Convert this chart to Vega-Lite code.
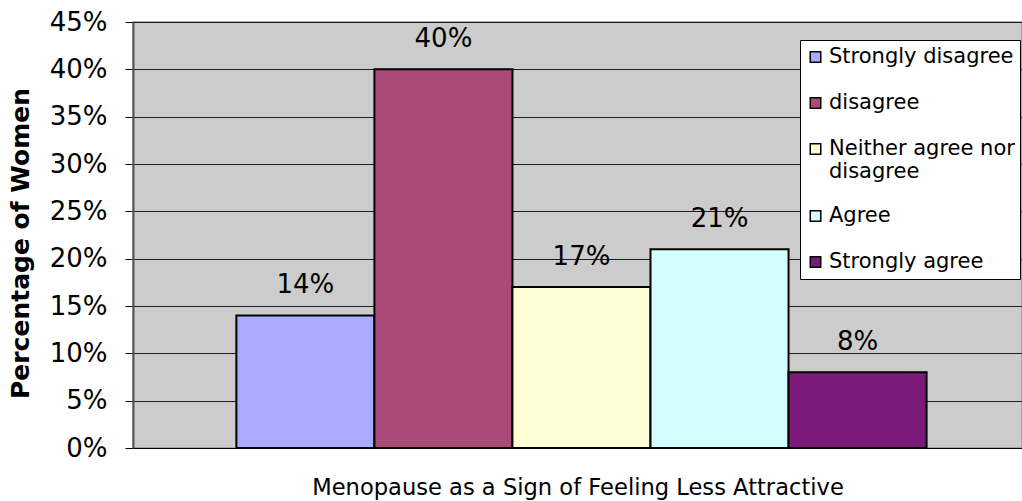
{
  "$schema": "https://vega.github.io/schema/vega-lite/v6.json",
  "width": 889,
  "height": 426,
  "autosize": "none",
  "padding": {"left": 133, "top": 22, "right": 0, "bottom": 53},
  "background": "white",
  "config": {
    "font": "DejaVu Sans",
    "view": {"fill": "#CCCCCC", "stroke": "#999999", "strokeWidth": 1.5}
  },
  "data": {
    "values": [
      {"response": "Strongly disagree", "pct": 0.14},
      {"response": "disagree", "pct": 0.40},
      {"response": "Neither agree nor disagree", "pct": 0.17},
      {"response": "Agree", "pct": 0.21},
      {"response": "Strongly agree", "pct": 0.08}
    ]
  },
  "encoding": {
    "x": {
      "field": "response",
      "type": "nominal",
      "sort": ["Strongly disagree", "disagree", "Neither agree nor disagree", "Agree", "Strongly agree"],
      "scale": {"paddingInner": 0, "paddingOuter": 0.72, "align": 0.52},
      "axis": {
        "labels": false,
        "ticks": false,
        "grid": false,
        "domain": true,
        "domainColor": "#000000",
        "domainWidth": 1,
        "title": "Menopause as a Sign of Feeling Less Attractive",
        "titleFontSize": 22.6,
        "titleFontWeight": "normal",
        "titleColor": "#000000",
        "titleY": 39,
        "titleBaseline": "middle"
      }
    },
    "y": {
      "field": "pct",
      "type": "quantitative",
      "scale": {"domain": [0, 0.45]},
      "axis": {
        "values": [0, 0.05, 0.1, 0.15, 0.2, 0.25, 0.3, 0.35, 0.4, 0.45],
        "format": ".0%",
        "labelFontSize": 26,
        "labelColor": "#000000",
        "labelPadding": 18,
        "labelBaseline": "middle",
        "tickSize": 8,
        "tickColor": "#000000",
        "grid": true,
        "gridColor": "#000000",
        "gridWidth": 1,
        "gridOpacity": 0.85,
        "domainColor": "#555555",
        "domainWidth": 2,
        "title": "Percentage of Women",
        "titleFontSize": 25,
        "titleFontWeight": "bold",
        "titleColor": "#000000",
        "titleAngle": -90,
        "titleX": -113,
        "titleY": 221,
        "titleAlign": "center",
        "titleBaseline": "middle"
      }
    }
  },
  "layer": [
    {
      "mark": {"type": "bar", "stroke": "#000000", "strokeWidth": 2},
      "encoding": {
        "color": {
          "field": "response",
          "type": "nominal",
          "scale": {
            "domain": ["Strongly disagree", "disagree", "Neither agree nor disagree", "Agree", "Strongly agree"],
            "range": ["#AAAAFF", "#AA4A77", "#FFFDD6", "#D4FDFF", "#7B1A78"]
          },
          "legend": {
            "orient": "none",
            "legendX": 667,
            "legendY": 18,
            "title": null,
            "fillColor": "#FFFFFF",
            "strokeColor": "#000000",
            "padding": 5,
            "labelFontSize": 21,
            "labelColor": "#000000",
            "labelOffset": 3,
            "labelLineHeight": 21,
            "symbolType": "square",
            "symbolSize": 110,
            "symbolStrokeColor": "#000000",
            "symbolStrokeWidth": 1.5,
            "symbolOpacity": 1,
            "rowPadding": 22,
            "clipHeight": 24,
            "labelLimit": 300,
            "labelExpr": "datum.label == 'Neither agree nor disagree' ? ['Neither agree nor', 'disagree'] : datum.label"
          }
        }
      }
    },
    {
      "mark": {"type": "text", "dy": -30, "fontSize": 26, "color": "#000000", "baseline": "middle"},
      "encoding": {
        "text": {"field": "pct", "type": "quantitative", "format": ".0%"}
      }
    }
  ]
}
